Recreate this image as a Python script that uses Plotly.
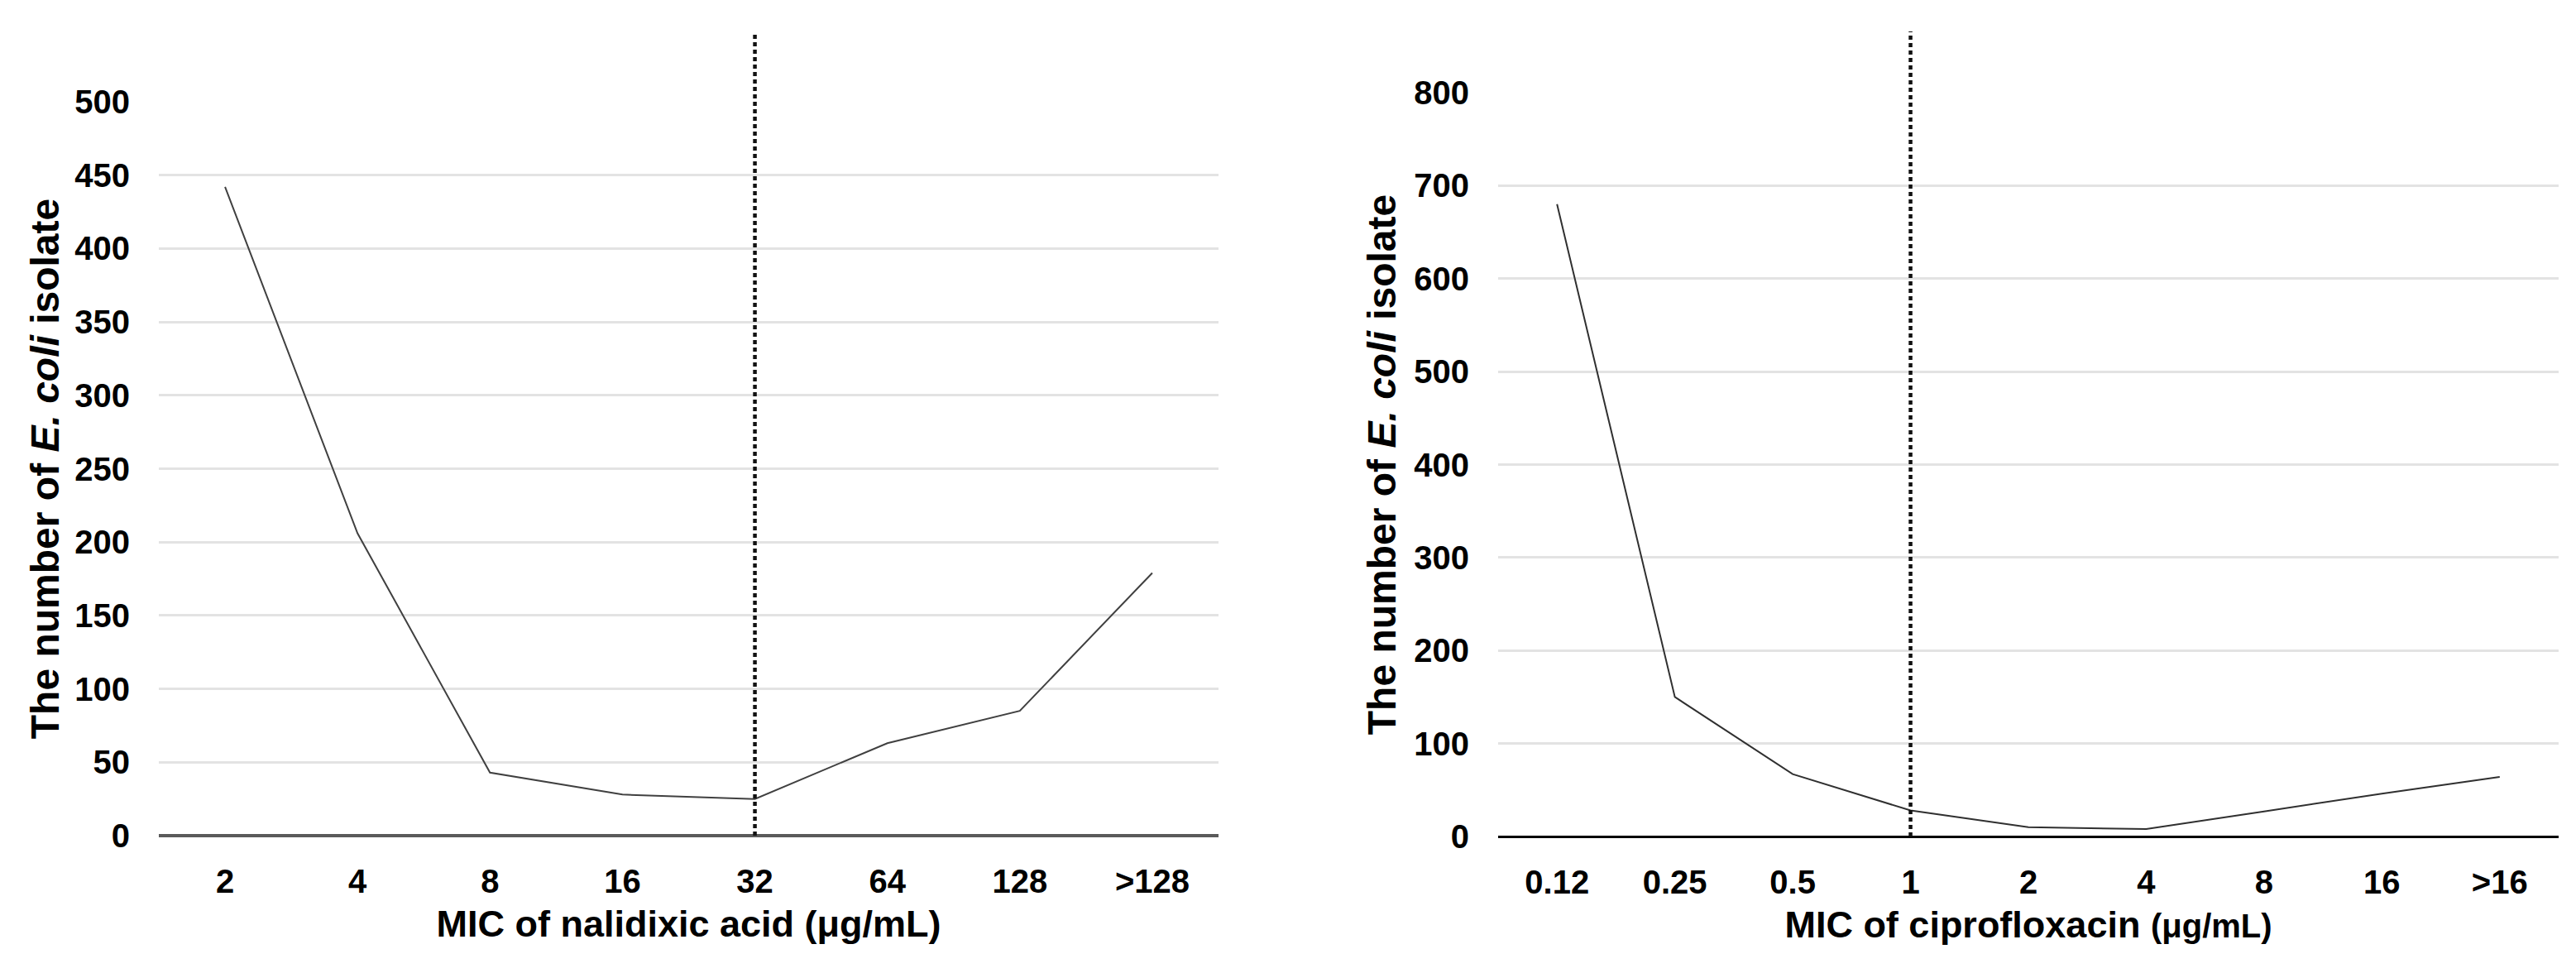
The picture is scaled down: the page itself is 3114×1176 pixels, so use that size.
import plotly.graph_objects as go

# ---- data ----
nal_categories = ["2", "4", "8", "16", "32", "64", "128", ">128"]
nal_counts = [442, 206, 43, 28, 25, 63, 85, 179]
nal_breakpoint = "32"
nal_yticks = [0, 50, 100, 150, 200, 250, 300, 350, 400, 450, 500]

cip_categories = ["0.12", "0.25", "0.5", "1", "2", "4", "8", "16", ">16"]
cip_counts = [680, 150, 67, 28, 10, 8, 27, 46, 64]
cip_breakpoint = "1"
cip_yticks = [0, 100, 200, 300, 400, 500, 600, 700, 800]

W, H = 3114, 1176
PAGE_OFFSET = 8  # default body margin of the html page
FONT = "Liberation Sans, Arial, Helvetica, sans-serif"

def fx(px):
    return (px - PAGE_OFFSET) / W

def fy(px):
    return 1 - (px - PAGE_OFFSET) / H

fig = go.Figure()

fig.add_trace(go.Scatter(x=nal_categories, y=nal_counts, mode="lines",
                         line=dict(color="#404040", width=2),
                         xaxis="x", yaxis="y", showlegend=False))
fig.add_trace(go.Scatter(x=cip_categories, y=cip_counts, mode="lines",
                         line=dict(color="#303030", width=2),
                         xaxis="x2", yaxis="y2", showlegend=False))

# breakpoint dotted lines (extend above the plotting area like the original)
fig.add_shape(type="line", xref="x", yref="paper",
              x0=nal_categories.index(nal_breakpoint), x1=nal_categories.index(nal_breakpoint),
              y0=fy(1010), y1=fy(39),
              line=dict(color="#111111", width=4.5, dash="5px,4px"))
fig.add_shape(type="line", xref="x2", yref="paper",
              x0=cip_categories.index(cip_breakpoint), x1=cip_categories.index(cip_breakpoint),
              y0=fy(1011), y1=fy(38),
              line=dict(color="#111111", width=4.5, dash="5px,4px"))

tickfont = dict(family=FONT, size=40, color="black", weight="bold")
xtitlefont = dict(family=FONT, size=45, color="black", weight="bold")
ytitlefont = dict(family=FONT, size=48, color="black", weight="bold")

common_x = dict(type="category", showgrid=False, ticks="", showline=False,
                tickfont=tickfont, ticklabelstandoff=28, zeroline=False,
                automargin=False)
common_y = dict(showgrid=True, gridcolor="#e3e3e3", gridwidth=2.5, ticks="",
                showline=False, tickfont=tickfont, ticklabelstandoff=34,
                zeroline=True, automargin=False)

fig.update_layout(
    width=W, height=H, autosize=False,
    margin=dict(l=0, r=0, t=0, b=0, pad=0),
    paper_bgcolor="white", plot_bgcolor="white",
    xaxis=dict(common_x, domain=[fx(192), fx(1473)], anchor="y",
               range=[-0.5, len(nal_categories) - 0.5],
               title=dict(text="MIC of nalidixic acid (μg/mL)", font=xtitlefont, standoff=14)),
    yaxis=dict(common_y, domain=[fy(1010), fy(123)], anchor="x",
               range=[0, 500], tickvals=nal_yticks,
               zerolinecolor="#5a5a5a", zerolinewidth=3.5,
               title=dict(text="The number of <i>E. coli</i> isolate", font=ytitlefont, standoff=3)),
    xaxis2=dict(common_x, domain=[fx(1811), fx(3093)], anchor="y2",
                range=[-0.5, len(cip_categories) - 0.5],
                title=dict(text="MIC of ciprofloxacin <span style='font-size:40px'>(μg/mL)</span>",
                           font=xtitlefont, standoff=14)),
    yaxis2=dict(common_y, domain=[fy(1011), fy(112)], anchor="x2",
                range=[0, 800], tickvals=cip_yticks,
                zerolinecolor="#000000", zerolinewidth=3,
                title=dict(text="The number of <i>E. coli</i> isolate", font=ytitlefont, standoff=6)),
)

fig.write_html("out.html")
